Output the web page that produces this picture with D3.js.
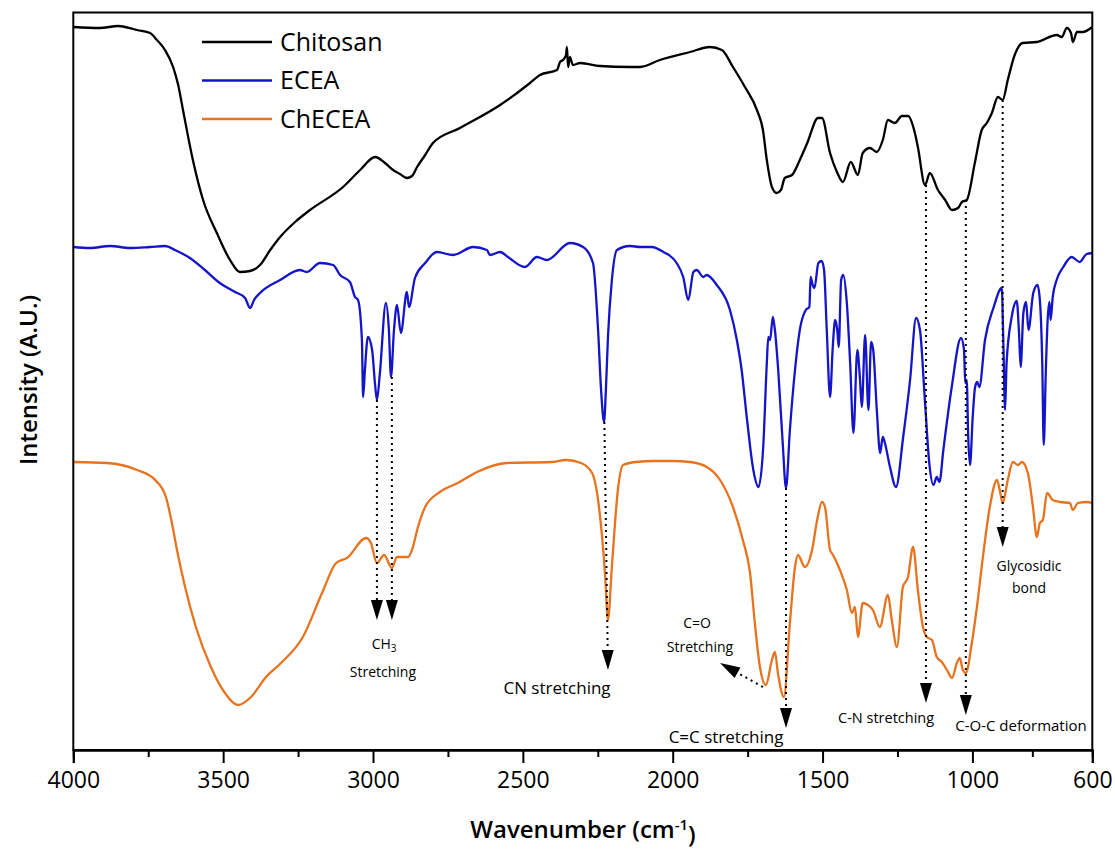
<!DOCTYPE html>
<html>
<head>
<meta charset="UTF-8">
<title>FTIR</title>
<script src="https://cdn.jsdelivr.net/npm/d3@7/dist/d3.min.js"></script>
<style>
    body{ margin:0; padding:0; background:#fff; }
    svg text{ font-family:"Open Sans", "Noto Sans", sans-serif; }
    .axis path, .axis line{ stroke:#000; stroke-width:2; }
    .axis text{ font-size:23px; fill:#000; }
    .note{ font-size:14px; fill:#000; }
</style>
</head>
<body>
<div id="chart"></div>
<script>
// [wavenumber cm-1, intensity a.u.]
var chitosan = [
    [4000,144.6],[3911,144.4],[3850,144.8],[3800,144.2],[3787,144.0],[3744,143.4],[3721,142.0],
    [3694,140.0],[3667,136.6],[3650,133.0],[3634,128.0],[3601,118.0],[3567,110.0],[3521,103.4],
    [3477,98.0],[3444,95.6],[3410,95.8],[3377,97.0],[3343,100.0],[3310,102.6],[3260,105.6],
    [3210,108.0],[3100,112.6],[3043,116.0],[2993,118.6],[2960,117.4],[2933,116.0],[2910,115.2],
    [2887,114.4],[2870,114.8],[2853,116.6],[2826,119.0],[2800,121.4],[2710,124.4],[2576,129.0],
    [2476,133.4],[2443,135.0],[2386,136.0],[2376,137.6],[2366,138.0],[2356,139.0],[2353,140.6],
    [2349,136.6],[2343,138.6],[2333,137.0],[2309,137.4],[2243,136.8],[2143,136.6],[2109,136.6],
    [2043,138.0],[1942,139.6],[1876,140.6],[1836,140.0],[1799,136.6],[1759,132.6],[1719,128.0],
    [1699,124.0],[1686,118.0],[1669,112.6],[1653,111.4],[1639,112.0],[1626,114.4],[1602,115.0],
    [1576,118.0],[1551,121.4],[1515,126.4],[1502,126.4],[1475,119.4],[1452,115.6],[1432,113.6],
    [1406,117.6],[1382,115.0],[1366,119.4],[1342,120.4],[1319,119.6],[1299,122.0],[1282,126.0],
    [1259,125.4],[1235,126.8],[1215,126.8],[1192,123.4],[1182,120.6],[1158,113.0],[1142,115.4],
    [1115,112.0],[1091,110.0],[1068,108.0],[1048,108.4],[1035,109.6],[1019,110.0],[992,117.4],
    [969,124.0],[952,125.4],[935,127.4],[915,130.6],[899,130.0],[882,134.0],[859,139.0],
    [832,141.4],[785,141.6],[718,143.0],[702,142.6],[685,144.4],[671,143.4],[665,141.6],
    [651,143.6],[632,143.6],[600,144.6]
];

var ecea = [
    [4000,100.6],[3944,100.4],[3877,100.8],[3811,100.4],[3744,100.6],[3694,100.8],[3661,100.0],
    [3611,98.4],[3561,96.0],[3511,93.4],[3460,91.6],[3427,90.4],[3410,88.4],[3397,90.0],
    [3377,91.4],[3310,94.0],[3244,96.0],[3221,95.6],[3177,97.4],[3133,97.0],[3110,95.0],
    [3077,93.6],[3060,90.6],[3050,90.0],[3037,82.0],[3033,70.6],[3027,76.0],[3017,82.6],
    [3003,80.0],[2993,73.0],[2987,70.0],[2977,75.4],[2957,89.4],[2947,84.0],[2940,74.6],
    [2930,84.0],[2920,89.0],[2907,83.4],[2887,91.6],[2880,88.6],[2860,94.4],[2826,97.4],
    [2787,99.6],[2733,99.0],[2666,100.6],[2620,100.0],[2610,99.0],[2576,99.6],[2550,98.6],
    [2493,96.6],[2453,98.6],[2420,98.0],[2343,101.4],[2299,100.6],[2266,97.4],[2249,84.0],
    [2239,72.0],[2229,65.6],[2223,72.0],[2216,82.6],[2203,94.0],[2186,100.0],[2143,100.8],
    [2109,100.6],[2070,100.6],[2031,99.6],[1987,97.4],[1965,94.6],[1948,90.0],[1931,95.6],
    [1920,96.0],[1898,94.6],[1887,95.0],[1853,93.0],[1809,88.0],[1786,82.0],[1770,76.0],
    [1753,66.6],[1731,56.0],[1714,52.6],[1698,60.6],[1686,77.4],[1681,82.6],[1675,82.0],
    [1666,86.6],[1659,84.0],[1648,76.0],[1633,61.4],[1622,52.4],[1609,64.0],[1592,76.0],
    [1576,84.0],[1556,88.0],[1544,88.6],[1540,94.6],[1533,93.0],[1527,92.4],[1514,97.4],
    [1503,97.8],[1495,96.0],[1486,84.0],[1475,70.6],[1466,80.6],[1458,86.0],[1451,84.0],
    [1446,80.6],[1438,94.0],[1431,95.0],[1419,89.4],[1408,77.4],[1397,63.4],[1384,80.0],
    [1375,74.0],[1369,68.6],[1358,83.0],[1347,68.0],[1338,81.6],[1331,80.0],[1319,68.0],
    [1308,59.4],[1299,62.6],[1292,61.4],[1275,56.6],[1255,52.6],[1231,62.6],[1208,74.0],
    [1188,86.4],[1175,84.0],[1158,69.4],[1144,57.4],[1130,53.0],[1119,54.6],[1110,53.6],
    [1097,60.0],[1069,72.6],[1038,82.4],[1028,80.0],[1024,73.4],[1019,74.0],[1014,62.6],
    [1008,57.0],[999,66.6],[991,72.6],[984,73.6],[977,72.6],[958,82.0],[930,88.4],
    [902,92.4],[897,82.0],[891,68.0],[886,77.4],[869,86.6],[852,89.8],[845,84.0],
    [839,76.6],[830,87.4],[821,89.6],[813,84.0],[797,91.4],[783,93.0],[775,90.0],
    [767,77.4],[762,61.0],[755,76.0],[749,86.0],[743,89.6],[739,86.0],[732,90.6],
    [719,94.0],[697,96.6],[669,98.6],[642,97.6],[619,99.2],[600,99.4]
];

var checea = [
    [4000,57.6],[3888,57.4],[3787,56.0],[3727,54.0],[3691,50.6],[3671,45.4],[3654,40.0],
    [3627,32.6],[3591,24.6],[3541,16.6],[3494,11.4],[3450,9.0],[3407,10.6],[3357,14.6],
    [3307,17.4],[3234,22.6],[3170,31.4],[3123,37.4],[3087,38.4],[3023,42.4],[3007,41.4],
    [2987,37.4],[2963,39.0],[2937,36.4],[2920,38.6],[2883,38.6],[2870,40.0],[2850,44.6],
    [2826,48.6],[2777,51.6],[2717,53.4],[2653,55.6],[2553,57.4],[2406,57.6],[2356,58.0],
    [2306,57.4],[2269,55.4],[2246,48.6],[2226,35.4],[2216,26.0],[2203,36.6],[2183,52.0],
    [2166,57.0],[2123,57.6],[2060,57.8],[2000,57.8],[1942,57.6],[1886,56.6],[1842,54.0],
    [1799,48.6],[1766,42.0],[1742,35.4],[1726,25.4],[1709,16.6],[1689,13.0],[1669,18.0],
    [1659,19.6],[1649,15.4],[1629,10.6],[1609,25.4],[1592,36.6],[1582,39.0],[1559,36.6],
    [1535,40.0],[1518,46.0],[1502,49.6],[1492,48.6],[1475,40.0],[1465,39.0],[1442,36.0],
    [1419,32.0],[1402,27.4],[1392,28.6],[1382,22.6],[1366,29.4],[1349,29.0],[1332,28.0],
    [1309,24.6],[1282,31.0],[1269,26.0],[1252,20.6],[1232,32.6],[1215,34.6],[1198,40.6],
    [1182,32.0],[1165,24.6],[1152,22.6],[1135,22.0],[1119,18.6],[1102,17.6],[1085,16.0],
    [1068,14.4],[1052,17.4],[1042,18.4],[1032,16.0],[1022,15.4],[1002,21.4],[985,28.6],
    [965,38.6],[942,48.6],[918,54.0],[909,52.0],[899,49.4],[882,54.0],[865,57.6],
    [848,57.0],[835,57.6],[815,55.4],[798,48.6],[785,42.6],[775,45.4],[765,46.0],
    [751,51.4],[732,50.0],[708,49.6],[675,49.4],[665,48.0],[648,49.4],[618,49.6],[600,49.4]
];

var seriesNames = ["Chitosan", "ECEA", "ChECEA"];
var seriesColors = ["#000000", "#1414c8", "#e8731e"];
var majorTicks = [4000, 3500, 3000, 2500, 2000, 1500, 1000, 600];
var minorTicks = [3750, 3250, 2750, 2250, 1750, 1250, 800];

// arrows: start on a curve, tip below it
var arrows = [
    [[2987,70.0],[2987,26.0]],
    [[2937,74.6],[2937,26.0]],
    [[2228,65.6],[2216,16.0]],
    [[1622,52.4],[1622,4.4]],
    [[1699,12.6],[1842,17.4]],
    [[1155,113.0],[1155,9.4]],
    [[1022,110.0],[1022,7.0]],
    [[899,130.0],[899,40.6]]
];

var notes = [
    {t:"CH3", wn:2963, v:21.2, s:14, sub:true},
    {t:"Stretching", wn:2967, v:15.6, s:14},
    {t:"CN stretching", wn:2386, v:12.4, s:17},
    {t:"C=C stretching", wn:1822, v:2.6, s:17},
    {t:"C=O", wn:1919, v:25.4, s:14},
    {t:"Stretching", wn:1909, v:20.6, s:14},
    {t:"C-N stretching", wn:1288, v:6.4, s:14.5},
    {t:"C-O-C deformation", wn:838, v:4.8, s:15},
    {t:"Glycosidic", wn:811, v:36.8, s:14},
    {t:"bond", wn:811, v:32.4, s:14}
];

var width = 1115, height = 852;
var plotLeft = 73.3, plotRight = 1092.3, plotTop = 12.5, plotBottom = 750;

var svg = d3.select("#chart").append("svg")
    .attr("width", width)
    .attr("height", height);

var x = d3.scaleLinear().domain([4000, 600]).range([plotLeft, plotRight]);
var y = d3.scaleLinear().domain([0, 147.5]).range([plotBottom, plotTop]);

var line = d3.line()
    .x(function(d){ return x(d[0]); })
    .y(function(d){ return y(d[1]); })
    .curve(d3.curveMonotoneX);

var allSeries = [chitosan, ecea, checea];

svg.selectAll(".trace")
    .data(allSeries)
    .enter()
    .append("path")
    .attr("class", "trace")
    .attr("d", line)
    .attr("fill", "none")
    .attr("stroke", function(d, i){ return seriesColors[i]; })
    .attr("stroke-width", 2.3)
    .attr("stroke-linejoin", "round");

// dotted arrows
arrows.forEach(function(a){
    var x1 = x(a[0][0]), y1 = y(a[0][1]);
    var x2 = x(a[1][0]), y2 = y(a[1][1]);
    var dx = x2 - x1, dy = y2 - y1;
    var len = Math.sqrt(dx*dx + dy*dy);
    var ux = dx/len, uy = dy/len;
    var head = 20, half = 6;
    var bx = x2 - ux*head, by = y2 - uy*head;
    svg.append("line")
        .attr("x1", x1).attr("y1", y1)
        .attr("x2", bx).attr("y2", by)
        .attr("stroke", "#000")
        .attr("stroke-width", 2)
        .attr("stroke-dasharray", "2,4");
    svg.append("path")
        .attr("d", "M" + x2 + "," + y2 +
            "L" + (bx - uy*half) + "," + (by + ux*half) +
            "L" + (bx + uy*half) + "," + (by - ux*half) + "Z")
        .attr("fill", "#000");
});

notes.forEach(function(n){
    var t = svg.append("text")
        .attr("class", "note")
        .attr("x", x(n.wn))
        .attr("y", y(n.v))
        .attr("dy", "0.35em")
        .attr("text-anchor", "middle")
        .style("font-size", n.s + "px");
    if(n.sub){
        t.append("tspan").text("CH");
        t.append("tspan").attr("dy", "0.3em").style("font-size", "10px").text("3");
    }else{
        t.text(n.t);
    }
});

// frame
svg.append("rect")
    .attr("x", plotLeft).attr("y", plotTop)
    .attr("width", plotRight - plotLeft).attr("height", plotBottom - plotTop)
    .attr("fill", "none")
    .attr("stroke", "#000")
    .attr("stroke-width", 2);

var axis = d3.axisBottom(x)
    .tickValues(majorTicks)
    .tickSize(13)
    .tickPadding(9)
    .tickFormat(d3.format("d"));

var minorAxis = d3.axisBottom(x)
    .tickValues(minorTicks)
    .tickSize(7)
    .tickFormat("");

svg.append("g")
    .attr("class", "axis")
    .attr("transform", "translate(0," + plotBottom + ")")
    .call(axis);

svg.append("g")
    .attr("class", "axis")
    .attr("transform", "translate(0," + plotBottom + ")")
    .call(minorAxis);

// axis titles
var xt = svg.append("text")
    .attr("x", 583)
    .attr("y", 838)
    .attr("text-anchor", "middle")
    .style("font-size", "24px")
    .style("font-weight", 600);
xt.append("tspan").text("Wavenumber (cm");
xt.append("tspan").attr("dy", "-0.55em").style("font-size", "15px").text("-1");
xt.append("tspan").attr("dy", "0.55em").text(")");

svg.append("text")
    .attr("transform", "translate(37,380) rotate(-90)")
    .attr("text-anchor", "middle")
    .style("font-size", "24px")
    .style("font-weight", 600)
    .text("Intensity (A.U.)");

// legend
var legend = svg.selectAll(".legend")
    .data(seriesNames)
    .enter()
    .append("g")
    .attr("class", "legend")
    .attr("transform", function(d, i){ return "translate(202," + (42 + i*38.5) + ")"; });

legend.append("line")
    .attr("x1", 0).attr("x2", 70)
    .attr("stroke", function(d, i){ return seriesColors[i]; })
    .attr("stroke-width", 2.5);

legend.append("text")
    .attr("x", 78)
    .attr("dy", "0.35em")
    .style("font-size", "25px")
    .text(function(d){ return d; });
</script>
</body>
</html>
